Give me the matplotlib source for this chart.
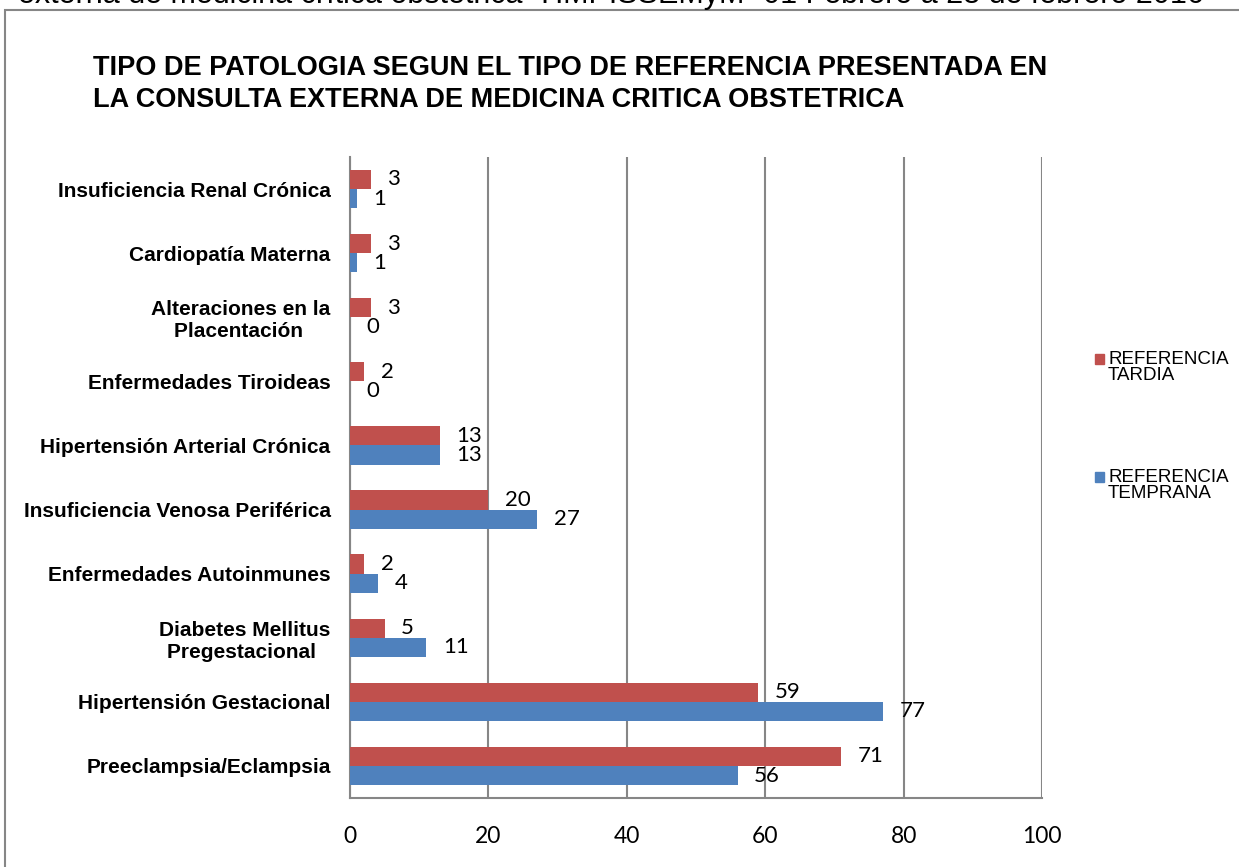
import matplotlib.pyplot as plt
from matplotlib.patches import Rectangle

categorias = [
    "Preeclampsia/Eclampsia",
    "Hipertensión Gestacional",
    "Diabetes Mellitus\nPregestacional ",
    "Enfermedades Autoinmunes",
    "Insuficiencia Venosa Periférica",
    "Hipertensión Arterial Crónica",
    "Enfermedades Tiroideas",
    "Alteraciones en la\nPlacentación ",
    "Cardiopatía Materna",
    "Insuficiencia Renal Crónica",
]
temprana = [56, 77, 11, 4, 27, 13, 0, 0, 1, 1]
tardia = [71, 59, 5, 2, 20, 13, 2, 3, 3, 3]
xticks = [0, 20, 40, 60, 80, 100]

titulo = ("TIPO DE PATOLOGIA SEGUN EL TIPO DE REFERENCIA PRESENTADA EN\n"
          "LA CONSULTA EXTERNA DE MEDICINA CRITICA OBSTETRICA")
texto_sup = ("externa de medicina crítica obstétrica \u201cHMPISSEMyM\u201d "
             "01 Febrero a 28 de febrero 2016")

ROJO = "#C0504D"
AZUL = "#4F81BD"
GRIS = "#868686"

W, H = 1239, 867
fig = plt.figure(figsize=(W / 100, H / 100), dpi=100)

# marco exterior (cortado a la derecha y abajo)
fig.patches.append(Rectangle((5 / W, -0.05), 1.2, 1 - 10 / H + 0.05,
                             transform=fig.transFigure, fill=False,
                             edgecolor=GRIS, linewidth=1.5))

# linea de texto cortada arriba
fig.text(18 / W, 1 - 3 / H, texto_sup, fontsize=22, family="Liberation Sans",
         va="baseline", ha="left")

fig.text(93 / W, 1 - 55 / H, titulo, fontsize=19.5, fontweight="bold",
         family="Liberation Sans", va="top", ha="left", linespacing=1.32)

ax = fig.add_axes([350 / W, 1 - 798 / H, 692 / W, 641 / H])
y = list(range(len(categorias)))
h = 0.3
ax.barh([i + h / 2 for i in y], tardia, height=h, color=ROJO, zorder=3)
ax.barh([i - h / 2 for i in y], temprana, height=h, color=AZUL, zorder=3)

for i in y:
    ax.annotate(str(tardia[i]), (tardia[i], i + h / 2), xytext=(12, 0),
                textcoords="offset points", va="center", ha="left",
                fontsize=16, family="Lato")
    ax.annotate(str(temprana[i]), (temprana[i], i - h / 2), xytext=(12, 0),
                textcoords="offset points", va="center", ha="left",
                fontsize=16, family="Lato")

ax.set_xlim(0, 100)
ax.set_ylim(-0.5, len(categorias) - 0.5)
ax.set_xticks(xticks)
ax.set_xticklabels([str(v) for v in xticks], fontsize=16.5, family="Lato")
ax.set_yticks(y)
ax.set_yticklabels(categorias, fontsize=15, fontweight="bold",
                   family="Liberation Sans", multialignment="center",
                   linespacing=1.2)
ax.tick_params(axis="x", length=0, pad=20)
ax.tick_params(axis="y", length=0, pad=14)
ax.grid(axis="x", color=GRIS, linewidth=1.5, zorder=0)
for s in ["top", "right"]:
    ax.spines[s].set_visible(False)
for s in ["left", "bottom"]:
    ax.spines[s].set_color(GRIS)
    ax.spines[s].set_linewidth(1.5)

# leyenda manual
leyenda = [("REFERENCIA\nTARDIA", ROJO, 351), ("REFERENCIA\nTEMPRANA", AZUL, 469)]
for txt, col, ytop in leyenda:
    fig.patches.append(Rectangle((1095 / W, 1 - (ytop + 13) / H), 9 / W, 10 / H,
                                 transform=fig.transFigure, color=col))
    fig.text(1108 / W, 1 - ytop / H, txt, fontsize=13.5, family="Liberation Sans",
             va="top", ha="left", linespacing=0.95)

fig.savefig("out.png", dpi=100)
